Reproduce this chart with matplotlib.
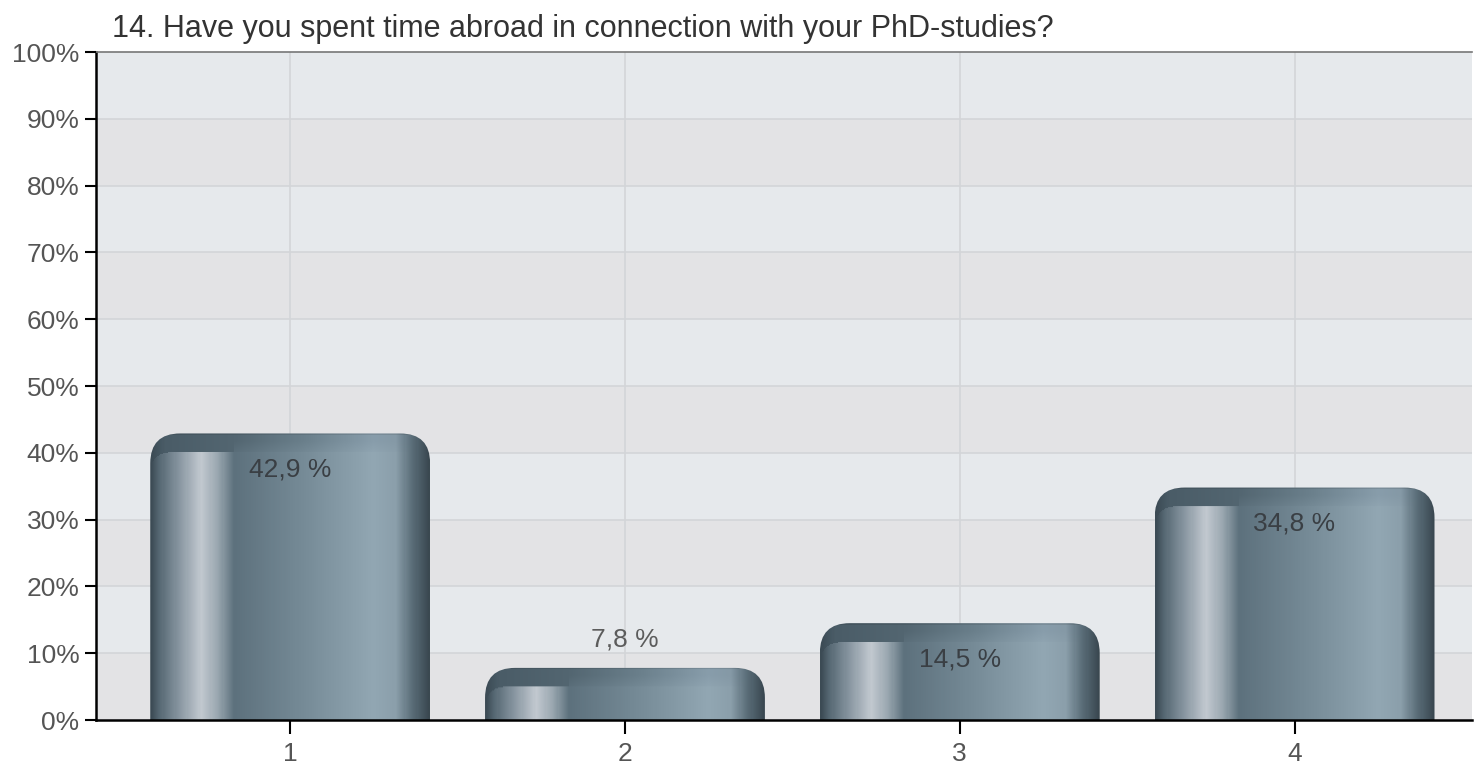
import matplotlib
matplotlib.use('Agg')
import matplotlib.pyplot as plt
from matplotlib.patches import FancyBboxPatch
from matplotlib.colors import LinearSegmentedColormap
import numpy as np

title = '14. Have you spent time abroad in connection with your PhD-studies?'
categories = ['1', '2', '3', '4']
values = [42.9, 7.8, 14.5, 34.8]
labels = ['42,9 %', '7,8 %', '14,5 %', '34,8 %']

plt.rcParams['font.family'] = ['Liberation Sans', 'DejaVu Sans']

W, H, DPI = 1474, 770, 100
fig = plt.figure(figsize=(W / DPI, H / DPI), dpi=DPI)
ax_left, ax_right, ax_top, ax_bot = 96, 1472, 52, 720
ax = fig.add_axes([ax_left / W, 1 - ax_bot / H, (ax_right - ax_left) / W, (ax_bot - ax_top) / H])

xlim = (0.42, 4.53)
ylim = (0, 100)
ax.set_xlim(*xlim)
ax.set_ylim(*ylim)
ax.set_facecolor('#e6e9ec')

# alternating background bands
for k in range(0, 100, 20):
    ax.axhspan(k, k + 10, color='#e3e3e5', zorder=0, lw=0)
for k in range(10, 100, 10):
    ax.axhline(k, color='#d3d5d8', lw=1.2, zorder=0.5)
for i in range(len(categories)):
    ax.axvline(i + 1, color='#d3d5d8', lw=1.2, zorder=0.5)

# pixel scales
px_x = (xlim[1] - xlim[0]) / (ax_right - ax_left)
px_y = (ylim[1] - ylim[0]) / (ax_bot - ax_top)
aspect = px_y / px_x

body = LinearSegmentedColormap.from_list('body', [
    (0.00, '#3c4b55'), (0.03, '#566873'), (0.10, '#8795a0'),
    (0.18, '#c2c9d0'), (0.24, '#9aa7b0'), (0.30, '#5d717d'),
    (0.55, '#768b97'), (0.80, '#92a7b3'), (0.88, '#8b9fab'),
    (0.94, '#5a6d78'), (1.00, '#3a4851')])
cap = LinearSegmentedColormap.from_list('cap', [
    (0.00, '#3c4b55'), (0.05, '#4a5c67'), (0.30, '#536671'),
    (0.55, '#6a7f8b'), (0.80, '#889dab'), (0.88, '#8599a6'),
    (0.94, '#5a6d78'), (1.00, '#3a4851')])

bar_w = 0.836
radius_px = 30
cap_px = 19
strip = 0.30
rc = 18

for i, v in enumerate(values):
    xc = i + 1
    x0 = xc - bar_w / 2
    wpx = int(round(bar_w / px_x))
    hpx = max(int(round(v / px_y)), 2)
    cols = np.linspace(0, 1, wpx)
    bcol = body(cols)[:, :3]
    ccol = cap(cols)[:, :3]
    img = np.repeat(bcol[None, :, :], hpx, axis=0)
    rows = np.arange(hpx)[:, None]
    jj = np.arange(wpx)[None, :]
    capmask = rows < cap_px
    sw = int(strip * wpx)
    corner = (jj < rc) & (rows >= cap_px) & (rows - cap_px < rc) & \
        ((rc - jj) ** 2 + (rc - (rows - cap_px)) ** 2 > rc ** 2)
    fade = np.clip((rows - cap_px * 0.4) / (cap_px * 0.8), 0, 1)
    mix = np.where(jj < sw, np.where(capmask | corner, 0.0, 1.0), np.where(capmask, fade, 1.0))
    mix = mix[:, :, None]
    img = img * mix + np.repeat(ccol[None, :, :], hpx, axis=0) * (1 - mix)
    img[:2] *= 0.9
    r = radius_px * px_x
    patch = FancyBboxPatch((x0, -r * aspect * 2), bar_w, v + r * aspect * 2,
                           boxstyle='round,pad=0,rounding_size=%f' % r,
                           mutation_aspect=aspect, facecolor='none', edgecolor='none',
                           transform=ax.transData)
    ax.add_patch(patch)
    im = ax.imshow(img, extent=(x0, x0 + bar_w, 0, v), aspect='auto',
                   interpolation='bilinear', zorder=2, origin='upper')
    im.set_clip_path(patch)
    if v > 12:
        ax.text(xc, v - 36 * px_y, labels[i], ha='center', va='center',
                fontsize=19, color='#3a3f44', zorder=3)
    else:
        ax.text(xc, v + 28 * px_y, labels[i], ha='center', va='center',
                fontsize=19, color='#5c5c5c', zorder=3)

ax.set_xticks(range(1, len(categories) + 1))
ax.set_xticklabels(categories)
ax.set_yticks(range(0, 101, 10))
ax.set_yticklabels(['%d%%' % t for t in range(0, 101, 10)])
ax.tick_params(axis='y', length=8, width=1.5, color='black', labelsize=19,
               labelcolor='#555555', pad=4)
ax.tick_params(axis='x', length=10, width=1.5, color='black', labelsize=19,
               labelcolor='#555555', pad=6)
ax.spines['left'].set_linewidth(1.8)
ax.spines['bottom'].set_linewidth(1.8)
ax.spines['top'].set_color('#777777')
ax.spines['top'].set_linewidth(1.2)
ax.spines['right'].set_visible(False)
ax.set_axisbelow(False)

fig.text(112 / W, 1 - 29 / H, title, ha='left', va='center', fontsize=22, color='#333333')

fig.savefig('out.png', dpi=DPI)
